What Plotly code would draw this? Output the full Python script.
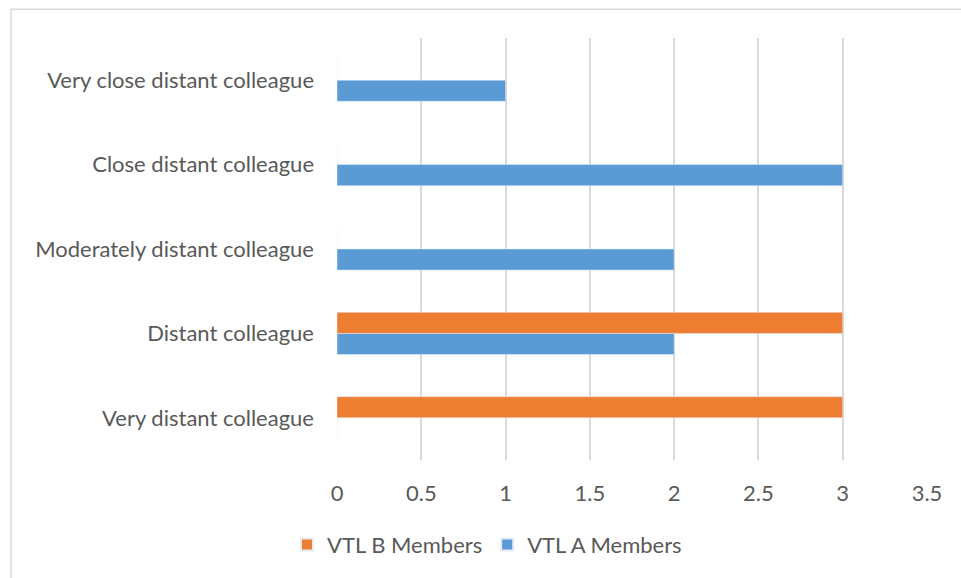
import plotly.graph_objects as go

categories = ["Very distant colleague", "Distant colleague", "Moderately distant colleague",
              "Close distant colleague", "Very close distant colleague"]
vtl_a = [0, 2, 2, 3, 1]
vtl_b = [3, 3, 0, 0, 0]
x_ticks = [0, 0.5, 1, 1.5, 2, 2.5, 3, 3.5]

W, H = 961, 578
L, R, T, B = 337, 34, 38, 116
pw, ph = W - L - R, H - T - B

fig = go.Figure()
fig.add_trace(go.Bar(y=categories, x=vtl_a, orientation="h", name="VTL A Members",
                     marker=dict(color="#5B9BD5")))
fig.add_trace(go.Bar(y=categories, x=vtl_b, orientation="h", name="VTL B Members",
                     marker=dict(color="#ED7D31")))

font = dict(family="Lato, 'Open Sans', sans-serif", size=22, color="#595959")

fig.update_layout(
    width=W, height=H,
    margin=dict(l=L, r=R, t=T, b=B, pad=0),
    paper_bgcolor="white", plot_bgcolor="white",
    barmode="group", bargap=0.5, bargroupgap=0,
    font=font,
    showlegend=True,
    legend=dict(orientation="h", traceorder="reversed", x=(487 - L) / pw, xanchor="center",
                y=-(547 - (T + ph)) / ph, yanchor="middle", font=font,
                itemwidth=30, itemsizing="constant"),
    xaxis=dict(range=[0, 3.5], tickvals=x_ticks, ticktext=[str(v) for v in x_ticks],
               showgrid=True, gridcolor="#D9D9D9", gridwidth=1.5, zeroline=False,
               showline=False, ticks="", ticklabelstandoff=18, tickfont=font),
    yaxis=dict(categoryorder="array", categoryarray=categories, showgrid=False,
               zeroline=False, showline=False, ticks="", ticklabelstandoff=22, tickfont=font),
    shapes=[dict(type="rect", xref="paper", yref="paper",
                 x0=(11 - L) / pw, x1=(W + 10 - L) / pw,
                 y0=-(H + 10 - (T + ph)) / ph, y1=1 + (T - 9) / ph,
                 line=dict(color="#D9D9D9", width=1.5), fillcolor="rgba(0,0,0,0)", layer="below")],
)

fig.write_html("out.html", config={"displayModeBar": False},
               post_script="document.body.style.margin='0';document.body.style.overflow='hidden';")
